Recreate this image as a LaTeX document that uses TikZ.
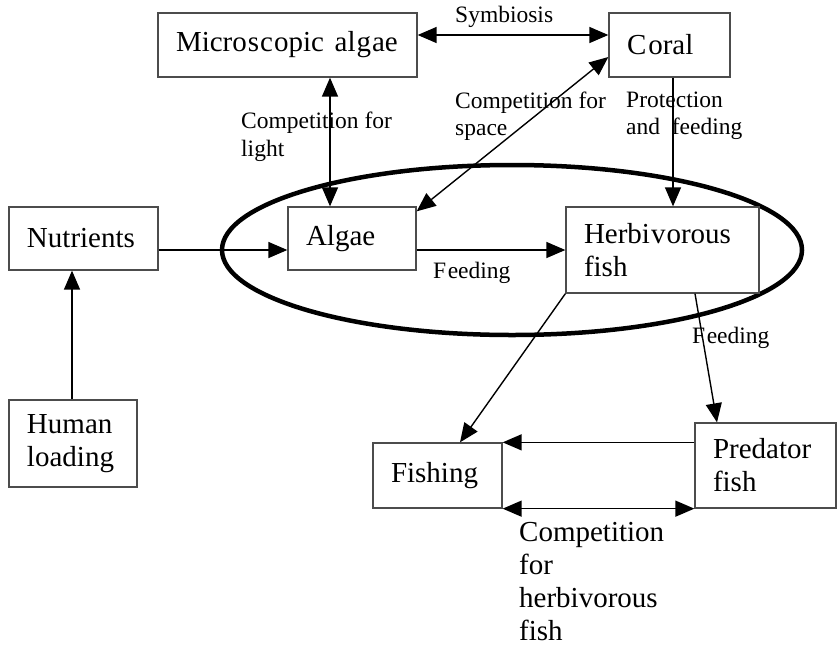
\documentclass[tikz,border=0pt]{standalone}
\usepackage{fontspec}
\setmainfont{Liberation Serif}
\usetikzlibrary{arrows.meta,calc}
\newcommand\bigf{\fontsize{29}{33}\selectfont}
\newcommand\smallf{\fontsize{23.5}{27.5}\selectfont}
\begin{document}
\begin{tikzpicture}[x=1pt,y=-1pt,
  box/.style={draw=black!70, line width=1.3pt, inner xsep=18pt, inner ysep=0pt, align=left, font=\bigf},
  lbl/.style={inner sep=0pt, align=left, font=\smallf},
  biglbl/.style={inner sep=0pt, align=left, font=\bigf},
  tip/.tip={Triangle[length=19pt,width=16pt]},
  arr/.style={line width=1.4pt, -tip},
  darr/.style={line width=1.4pt, tip-tip},
  ring/.style={line width=4.5pt}]
\useasboundingbox (0,0) rectangle (837,648);
% ellipse
\draw[ring] (512,250) ellipse [x radius=290, y radius=85];
% boxes
\node[box, text width=223pt, minimum height=64pt] (ma) at (287.5,45) {Micro\kern1pt s\kern1pt c\kern1pt opic\kern1pt\ al\kern1pt g\kern1pt ae};
\node[box, text width=85pt, minimum height=64pt] (coral) at (669.5,45) {C\kern2pt oral};
\node[box, text width=113pt, minimum height=63pt] (nut) at (83.5,238.5) {Nutrients};
\node[box, text width=92pt, minimum height=63pt] (algae) at (352,238.5) {Algae};
\node[box, text width=157pt, minimum height=86pt] (herb) at (662.5,250) {Herbi\kern1pt v\kern1pt orous\\fish};
\node[box, text width=92pt, minimum height=87pt] (human) at (73,443.5) {Human\\loading};
\node[box, text width=93pt, minimum height=65pt] (fish) at (437.5,475.5) {Fishing};
\node[box, text width=105pt, minimum height=85pt] (pred) at (765.5,465.5) {Predator\\fish};
% labels
\node[lbl, anchor=west] (lsym) at (455,17) {Symbiosis};
\node[lbl, anchor=west] (llight) at (241,137) {Competition for\\light};
\node[lbl, anchor=west] (lspace) at (455,116) {Competition for\\space};
\node[lbl, anchor=west] (lprot) at (626,116) {Protection\\and\ \ feeding};
\node[lbl, anchor=west] (lfeed1) at (433,273) {F\kern1.5pt eeding};
\node[lbl, anchor=west] (lfeed2) at (692,338) {F\kern1.5pt eeding};
\node[biglbl, anchor=west] (lcomp) at (519,582) {Competition\\for\\herbivorous\\fish};
% connectors
\draw[darr] ([yshift=10pt]ma.east) -- ([yshift=10pt]coral.west);
\draw[darr] ([xshift=-22pt]algae.north) -- ([xshift=-22pt]algae.north |- ma.south);
\draw[darr] ([yshift=-5pt]algae.north east) -- ([yshift=-12pt]coral.west);
\draw[arr] ([xshift=3.5pt]coral.south) -- ([xshift=3.5pt]coral.south |- herb.north);
\draw[arr] (nut.east |- herb.west) -- (algae.west |- herb.west);
\draw[arr] (algae.east |- herb.west) -- (herb.west);
\draw[arr] ([xshift=-1pt]human.north) -- ([xshift=-1pt]human.north |- nut.south);
\draw[arr] (herb.south west) -- ([xshift=22.5pt]fish.north);
\draw[arr] ([xshift=32.5pt]herb.south) -- ([xshift=-48.5pt]pred.north);
\draw[arr] (pred.west |- fish.north east) -- (fish.north east);
\draw[darr] (fish.south east) -- (pred.south west);
\end{tikzpicture}
\end{document}
